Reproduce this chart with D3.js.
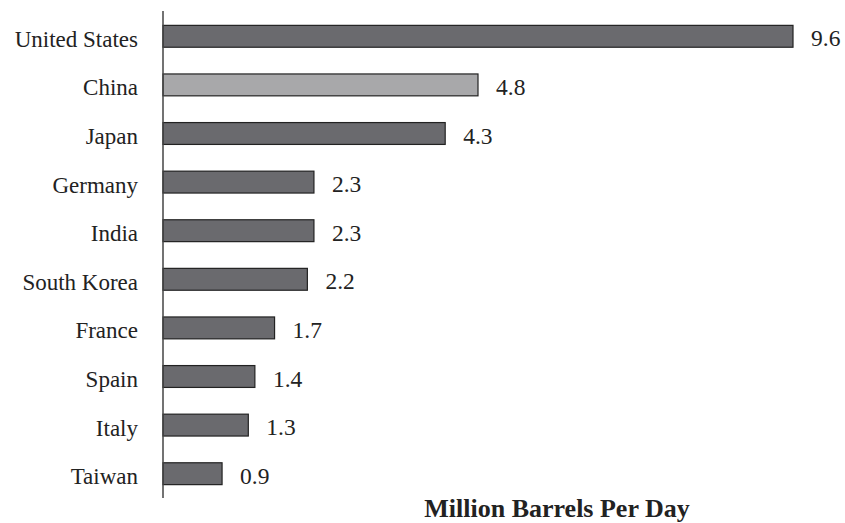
<!DOCTYPE html>
<html><head><meta charset="utf-8">
<script src="https://cdn.jsdelivr.net/npm/d3@7"></script>
<style>body{margin:0;background:#fff}svg{display:block}</style>
</head><body>
<script>
const countries = ["United States","China","Japan","Germany","India","South Korea","France","Spain","Italy","Taiwan"];
const values = [9.6,4.8,4.3,2.3,2.3,2.2,1.7,1.4,1.3,0.9];
const highlight = ["China"];
const axisTitle = "Million Barrels Per Day";

const W=845,H=523;
const svg=d3.select("body").append("svg").attr("width",W).attr("height",H);
const x0=163;
const x=d3.scaleLinear().domain([0,9.6]).range([x0,793]);
const y=d3.scaleBand().domain(countries).range([12,498]).paddingInner(0.55).paddingOuter(0.275);

svg.selectAll("rect.bar").data(countries).join("rect")
  .attr("x",x0).attr("y",d=>y(d)).attr("height",y.bandwidth())
  .attr("width",(d,i)=>x(values[i])-x0)
  .attr("fill",d=>highlight.includes(d)?"#a8a8aa":"#6a6a6e")
  .attr("stroke","#222").attr("stroke-width",1.2);

svg.append("line").attr("x1",x0).attr("x2",x0).attr("y1",11).attr("y2",498)
  .attr("stroke","#444").attr("stroke-width",1.5);

svg.selectAll("text.cat").data(countries).join("text")
  .attr("x",138).attr("y",d=>y(d)+y.bandwidth()/2+10.5)
  .attr("text-anchor","end").attr("font-family","Liberation Serif, serif")
  .attr("font-size",23).attr("fill","#222").text(d=>d);

svg.selectAll("text.val").data(countries).join("text")
  .attr("x",(d,i)=>x(values[i])+18).attr("y",d=>y(d)+y.bandwidth()/2+10)
  .attr("font-family","Liberation Serif, serif")
  .attr("font-size",23.5).attr("fill","#222").text((d,i)=>values[i].toFixed(1));

svg.append("text").attr("x",557).attr("y",517).attr("text-anchor","middle")
  .attr("font-family","Liberation Serif, serif").attr("font-weight","bold")
  .attr("font-size",26).attr("fill","#222").text(axisTitle);
</script>
</body></html>
